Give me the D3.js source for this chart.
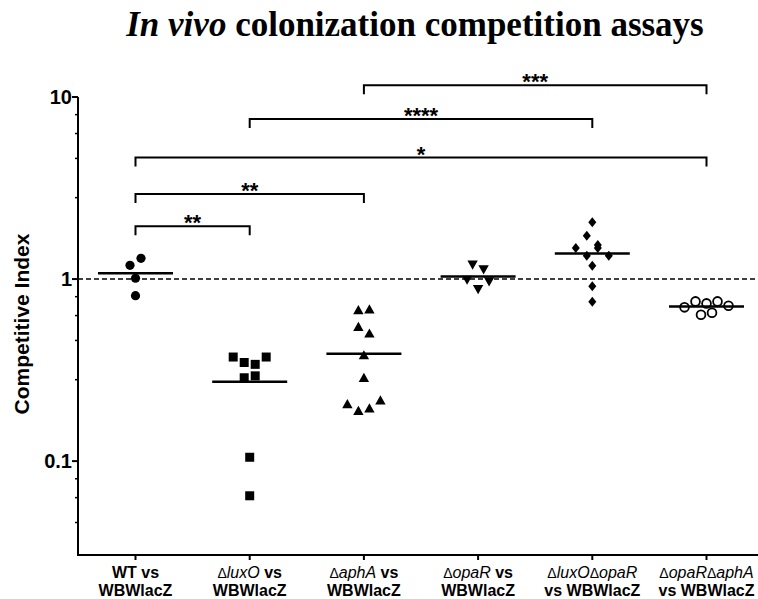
<!DOCTYPE html>
<html>
<head>
<meta charset="utf-8">
<script src="https://cdn.jsdelivr.net/npm/d3@7"></script>
<style>
  body { margin: 0; background: #fff; }
  text { white-space: pre; }
</style>
</head>
<body>
<div id="chart"></div>
<script>
// values (competitive index per mouse)
const wt        = [1.19, 1.30, 1.01, 0.81];
const luxO      = [0.373, 0.348, 0.340, 0.373, 0.287, 0.294, 0.105, 0.0645];
const aphA      = [0.676, 0.682, 0.547, 0.503, 0.382, 0.287, 0.206, 0.189, 0.195, 0.216];
const opaR      = [1.20, 1.13, 0.99, 0.88, 0.97];
const luxOopaR  = [2.05, 1.73, 1.48, 1.343, 1.48, 1.343, 1.54, 1.183, 0.912, 0.75];
const opaRaphA  = [0.699, 0.754, 0.735, 0.754, 0.713, 0.637, 0.653];

const groups = [wt, luxO, aphA, opaR, luxOopaR, opaRaphA];
const catTop    = ["WT vs", "ΔluxO vs", "ΔaphA vs", "ΔopaR vs", "ΔluxOΔopaR", "ΔopaRΔaphA"];
const catBottom = ["WBWlacZ", "WBWlacZ", "WBWlacZ", "WBWlacZ", "vs WBWlacZ", "vs WBWlacZ"];

// significance brackets
const brFrom   = [0, 0, 0, 1, 2];
const brTo     = [1, 2, 5, 4, 5];
const brHeight = [1.95, 2.93, 4.65, 7.57, 11.6];
const brLabel  = ["**", "**", "*", "****", "***"];

const yTicks = [0.1, 1, 10];
const yTickLabels = ["0.1", "1", "10"];
const minorFactors = [0.8, 0.63, 0.46, 0.28];

const W = 758, H = 599;
const svg = d3.select("#chart").append("svg")
    .attr("width", W).attr("height", H)
    .style("font-family", "'Liberation Sans', Arial, sans-serif");

svg.append("rect").attr("width", W).attr("height", H).attr("fill", "#fff");

const y = d3.scaleLog().domain([0.0305, 10]).range([555, 97]);
const x = d3.scalePoint().domain(d3.range(groups.length)).range([135.5, 706.5]);
const axisX0 = 78;

// title
const title = svg.append("text")
    .attr("x", 415).attr("y", 36)
    .attr("text-anchor", "middle")
    .style("font-family", "'Liberation Serif', 'Times New Roman', serif")
    .style("font-weight", "bold")
    .style("font-size", "35px");
title.append("tspan").style("font-style", "italic").text("In vivo");
title.append("tspan").text(" colonization competition assays");

// y axis
svg.append("line")
    .attr("x1", axisX0).attr("x2", axisX0)
    .attr("y1", y(10)).attr("y2", 555)
    .attr("stroke", "#000").attr("stroke-width", 2);

let minor = [];
[10, 1, 0.1].forEach(function(dec){
  minorFactors.forEach(function(f){
    const v = dec * f;
    if (v > y.domain()[0]) minor.push(v);
  });
});
svg.selectAll(".minor").data(minor).enter().append("line")
    .attr("x1", axisX0 - 3).attr("x2", axisX0)
    .attr("y1", d => y(d)).attr("y2", d => y(d))
    .attr("stroke", "#000").attr("stroke-width", 1.5);

svg.selectAll(".major").data(yTicks).enter().append("line")
    .attr("x1", axisX0 - 6).attr("x2", axisX0)
    .attr("y1", d => y(d)).attr("y2", d => y(d))
    .attr("stroke", "#000").attr("stroke-width", 2);

svg.selectAll(".ylab").data(yTicks).enter().append("text")
    .attr("x", axisX0 - 6).attr("y", d => y(d))
    .attr("dy", "0.36em")
    .attr("text-anchor", "end")
    .style("font-weight", "bold").style("font-size", "20px")
    .text((d, i) => yTickLabels[i]);

svg.append("text")
    .attr("transform", "translate(29,324) rotate(-90)")
    .attr("text-anchor", "middle")
    .style("font-weight", "bold").style("font-size", "21px")
    .text("Competitive Index");

// x axis
svg.append("line")
    .attr("x1", axisX0 - 1).attr("x2", W)
    .attr("y1", 555).attr("y2", 555)
    .attr("stroke", "#000").attr("stroke-width", 2);

svg.selectAll(".xtick").data(groups).enter().append("line")
    .attr("x1", (d, i) => x(i)).attr("x2", (d, i) => x(i))
    .attr("y1", 555).attr("y2", 560)
    .attr("stroke", "#000").attr("stroke-width", 2);

function addLabel(sel, str){
  const re = /(Δ)([A-Za-z]+)|([^Δ]+)/g;
  let m;
  while ((m = re.exec(str)) !== null) {
    if (m[1]) {
      sel.append("tspan").style("font-weight", "normal").style("font-size", "14px").text("Δ");
      sel.append("tspan").style("font-weight", "normal").style("font-style", "italic").text(m[2]);
    } else {
      sel.append("tspan").style("font-weight", "bold").text(m[3]);
    }
  }
}
groups.forEach(function(g, i){
  const t1 = svg.append("text").attr("x", x(i)).attr("y", 578)
      .attr("text-anchor", "middle").style("font-size", "16px");
  addLabel(t1, catTop[i]);
  const t2 = svg.append("text").attr("x", x(i)).attr("y", 596)
      .attr("text-anchor", "middle").style("font-size", "16px");
  addLabel(t2, catBottom[i]);
});

// reference line at 1
svg.append("line")
    .attr("x1", axisX0).attr("x2", W)
    .attr("y1", y(1)).attr("y2", y(1))
    .attr("stroke", "#000").attr("stroke-width", 1.5)
    .attr("stroke-dasharray", "5,3");

// markers
const shapes = {
  circle: function(p){ p.moveTo(4.6, 0); p.arc(0, 0, 4.6, 0, 2 * Math.PI); },
  square: function(p){ p.rect(-4.5, -4.5, 9, 9); },
  up: function(p){ p.moveTo(0, -5); p.lineTo(5.2, 4.2); p.lineTo(-5.2, 4.2); p.closePath(); },
  down: function(p){ p.moveTo(0, 5); p.lineTo(5.2, -4.2); p.lineTo(-5.2, -4.2); p.closePath(); },
  diamond: function(p){ p.moveTo(0, -5); p.lineTo(4, 0); p.lineTo(0, 5); p.lineTo(-4, 0); p.closePath(); },
  ring: function(p){ p.moveTo(4.4, 0); p.arc(0, 0, 4.4, 0, 2 * Math.PI); }
};
const groupShape = ["circle", "square", "up", "down", "diamond", "ring"];

function markerPath(name){
  const p = d3.path();
  shapes[name](p);
  return p.toString();
}

// spread points that sit at nearly the same height into a row
function dodge(vals){
  const idx = d3.range(vals.length).sort((a, b) => vals[b] - vals[a]);
  const rows = [];
  let cur = null;
  idx.forEach(function(i){
    const py = y(vals[i]);
    if (!cur || py - cur.y0 > 11) { cur = {y0: py, items: []}; rows.push(cur); }
    cur.items.push(i);
  });
  const off = new Array(vals.length);
  rows.forEach(function(r){
    r.items.sort((a, b) => a - b);
    r.items.forEach((i, k) => off[i] = (k - (r.items.length - 1) / 2) * 11);
  });
  return off;
}

groups.forEach(function(vals, gi){
  const off = dodge(vals);
  const shape = groupShape[gi];
  const d = markerPath(shape);
  svg.append("g").selectAll("path").data(vals).enter().append("path")
      .attr("d", d)
      .attr("transform", (v, k) => "translate(" + (x(gi) + off[k]) + "," + y(v) + ")")
      .attr("fill", shape === "ring" ? "#fff" : "#000")
      .attr("stroke", shape === "ring" ? "#000" : "none")
      .attr("stroke-width", 1.8);

  const m = d3.mean(vals);
  svg.append("line")
      .attr("x1", x(gi) - 37.5).attr("x2", x(gi) + 37.5)
      .attr("y1", y(m)).attr("y2", y(m))
      .attr("stroke", "#000").attr("stroke-width", 2.5);
});

// brackets
brFrom.forEach(function(a, i){
  const b = brTo[i];
  const by = y(brHeight[i]);
  svg.append("path")
      .attr("d", "M" + x(a) + "," + (by + 9) + "V" + by + "H" + x(b) + "V" + (by + 9))
      .attr("fill", "none").attr("stroke", "#000").attr("stroke-width", 2);
  svg.append("text")
      .attr("x", (x(a) + x(b)) / 2).attr("y", by + 4)
      .attr("text-anchor", "middle")
      .style("font-weight", "bold").style("font-size", "22px")
      .text(brLabel[i]);
});
</script>
</body>
</html>
